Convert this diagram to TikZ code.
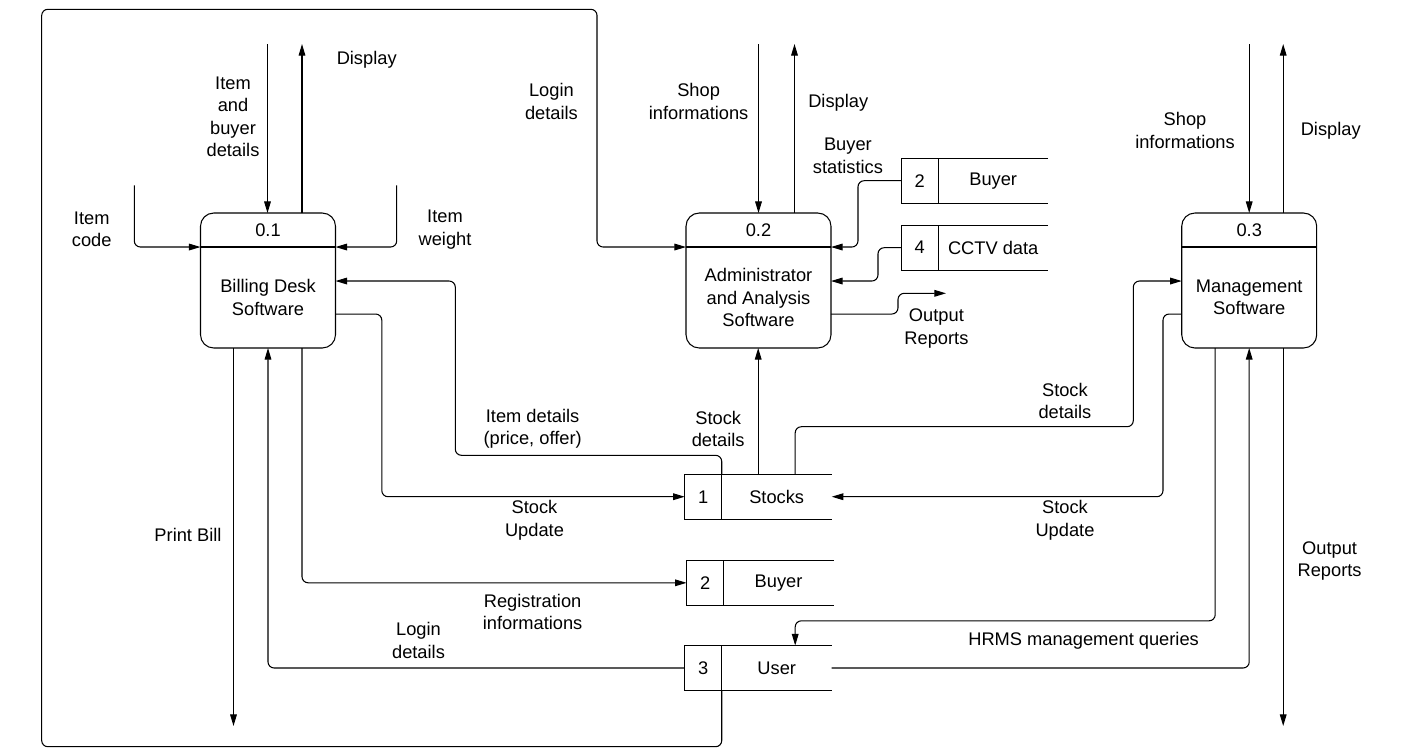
\documentclass[tikz,border=0pt]{standalone}
\usepackage{fontspec}
\setmainfont{Liberation Sans}
\usetikzlibrary{calc,arrows.meta}
\tikzset{
  thinline/.style={line width=0.6pt},
  flow/.style={thinline, rounded corners=3.5pt, -{Triangle[length=6.6pt,width=3.8pt]}},
  procbox/.style={draw, thinline, rounded corners=7.5pt, minimum height=2.7cm, inner sep=0pt, outer sep=0pt},
  storebox/.style={minimum width=2.94cm, minimum height=0.9cm, inner sep=0pt, outer sep=0pt},
  lbl/.style={align=center, inner sep=0pt},
}
\def\dfdprocess[#1](#2)(#3,#4)#5#6{%
  \node[procbox, #1] (#2) at (#3,#4) {};
  \draw[thinline] ($(#2.north west)+(0,34)$) -- ($(#2.north east)+(0,34)$);
  \node[lbl] (#2-id) at ($(#2.north)+(0,17)$) {#5};
  \node[lbl] (#2-name) at ($(#2.center)+(0,17)$) {#6};}
\def\dfdstore(#1)(#2,#3)#4#5{%
  \node[storebox] (#1) at (#2,#3) {};
  \draw[thinline] (#1.north east) -- (#1.north west) -- (#1.south west) -- (#1.south east);
  \draw[thinline] ($(#1.north west)+(37,0)$) -- ($(#1.south west)+(37,0)$);
  \node[lbl] (#1-id) at ($(#1.west)+(18.5,0)$) {#4};
  \node[lbl] (#1-name) at ($(#1.center)+(18.5,0)$) {#5};}

\begin{document}
\begin{tikzpicture}[x=0.02cm, y=-0.02cm, font=\fontsize{10.4}{12.8}\selectfont]
	\useasboundingbox (0,0) rectangle (1402,752);
	
	%%%%% processes %%%%%
	\dfdprocess[minimum width=2.7cm](billing)(268,280.5){0.1}{Billing Desk\\Software}
	\dfdprocess[minimum width=2.9cm](admin)(758.5,280.5){0.2}{Administrator\\and Analysis\\Software}
	\dfdprocess[minimum width=2.7cm](mgmt)(1249.2,280.5){0.3}{Management\\Software}
	
	%%%%% data stores %%%%%
	\dfdstore(buyertop)(974.7,180.7){2}{Buyer}
	\dfdstore(cctv)(974.7,247.7){4}{CCTV data}
	\dfdstore(stocks)(758.2,496.7){1}{Stocks}
	\dfdstore(buyer)(760.1,582.8){2}{Buyer}
	\dfdstore(user)(758.2,668){3}{User}
	
	%%%%% free ends %%%%%
	\coordinate (ibd-src) at ($(billing.north)+(-0.5,-169)$);
	\coordinate (disp1-out) at ($(billing.north)+(34,-169)$);
	\coordinate (icode-src) at (134.3,185.3);
	\coordinate (iweight-src) at (396.7,185.3);
	\coordinate (bill-out) at ($(billing.south)+(-34.5,378)$);
	\coordinate (shop2-src) at ($(admin.north)+(0,-169)$);
	\coordinate (disp2-out) at ($(admin.north)+(36,-169)$);
	\coordinate (rep2-out) at (946,293.3);
	\coordinate (shop3-src) at ($(mgmt.north)+(0,-169)$);
	\coordinate (disp3-out) at ($(mgmt.north)+(34,-169)$);
	\coordinate (rep3-out) at ($(mgmt.south)+(34,378)$);
	
	%%%%% billing desk flows %%%%%
	\draw[flow] (ibd-src) -- (ibd-src |- billing.north);
	\draw[flow] (disp1-out |- billing.north) -- (disp1-out);
	\draw[flow] (icode-src) |- ($(billing.north west)+(0,34)$);
	\draw[flow] (iweight-src) |- ($(billing.north east)+(0,34)$);
	\draw[flow] ($(stocks.north west)+(37,0)$) |- (455.3,455.3) |- ($(billing.north east)+(0,68)$);
	\draw[flow] ($(billing.north east)+(0,101)$) -| (381.8,496.7) -- (stocks.west);
	\draw[flow] ($(billing.south)+(34,0)$) |- (buyer.west);
	\draw[flow] (user.west) -| (billing.south);
	\draw[flow] (bill-out |- billing.south) -- (bill-out);
	
	%%%%% administrator flows %%%%%
	\draw[flow] ($(user.south west)+(37,0)$) |- (41.7,746.7) |- (597,9.3) |- ($(admin.north west)+(0,34)$);
	\draw[flow] (shop2-src) -- (admin.north);
	\draw[flow] (disp2-out |- admin.north) -- (disp2-out);
	\draw[flow] (buyertop.west) -| ($(admin.north east)+(27,34)$) -- ($(admin.north east)+(0,34)$);
	\draw[flow] (cctv.west) -| ($(admin.north east)+(47,68)$) -- ($(admin.north east)+(0,68)$);
	\draw[flow] ($(admin.north east)+(0,101)$) -| ($(admin.north east)+(67,80.3)$) -- (rep2-out);
	\draw[flow] (stocks.north) -- (stocks.north |- admin.south);
	
	%%%%% management flows %%%%%
	\draw[flow] (shop3-src) -- (mgmt.north);
	\draw[flow] (disp3-out |- mgmt.north) -- (disp3-out);
	\draw[flow] ($(stocks.north)+(37,0)$) |- (1133.3,426.7) |- ($(mgmt.north west)+(0,68)$);
	\draw[flow] ($(mgmt.north west)+(0,101)$) -| (1163,496.7) -- (stocks.east);
	\draw[flow] ($(mgmt.south)+(-34,0)$) |- ($(user.north)+(37,-24.7)$) -- ($(user.north)+(37,0)$);
	\draw[flow] (user.east) -| (mgmt.south);
	\draw[flow] (rep3-out |- mgmt.south) -- (rep3-out);
	
	%%%%% labels %%%%%
	\node[lbl] (l-ibd) at (233,116.7) {Item\\and\\buyer\\details};
	\node[lbl] (l-disp1) at (366.7,59.3) {Display};
	\node[lbl] (l-icode) at (91.7,229.5) {Item\\code};
	\node[lbl] (l-iweight) at (445,229.5) {Item\\weight};
	\node[lbl] (l-login2) at (551.4,101.7) {Login\\details};
	\node[lbl] (l-shop2) at (698.6,101.7) {Shop\\informations};
	\node[lbl] (l-disp2) at (838.2,102.7) {Display};
	\node[lbl] (l-bstat) at (847.9,155.8) {Buyer\\statistics};
	\node[lbl] (l-rep2) at (936.4,328.3) {Output\\Reports};
	\node[lbl] (l-shop3) at (1185,130.3) {Shop\\informations};
	\node[lbl] (l-disp3) at (1330.7,131) {Display};
	\node[lbl] (l-idet) at (532.6,428.8) {Item details\\(price, offer)};
	\node[lbl] (l-sdet2) at (718.2,428.8) {Stock\\details};
	\node[lbl] (l-sdet3) at (1064.9,400.7) {Stock\\details};
	\node[lbl] (l-supd1) at (534.5,520.3) {Stock\\Update};
	\node[lbl] (l-supd3) at (1065,520.3) {Stock\\Update};
	\node[lbl] (l-bill) at (188,535) {Print Bill};
	\node[lbl] (l-rep3) at (1329.6,561.2) {Output\\Reports};
	\node[lbl] (l-reg) at (532.6,611.7) {Registration\\informations};
	\node[lbl] (l-login1) at (418.5,640.5) {Login\\details};
	\node[lbl] (l-hrms) at (1083.6,641) {HRMS management queries};
\end{tikzpicture}
\end{document}
